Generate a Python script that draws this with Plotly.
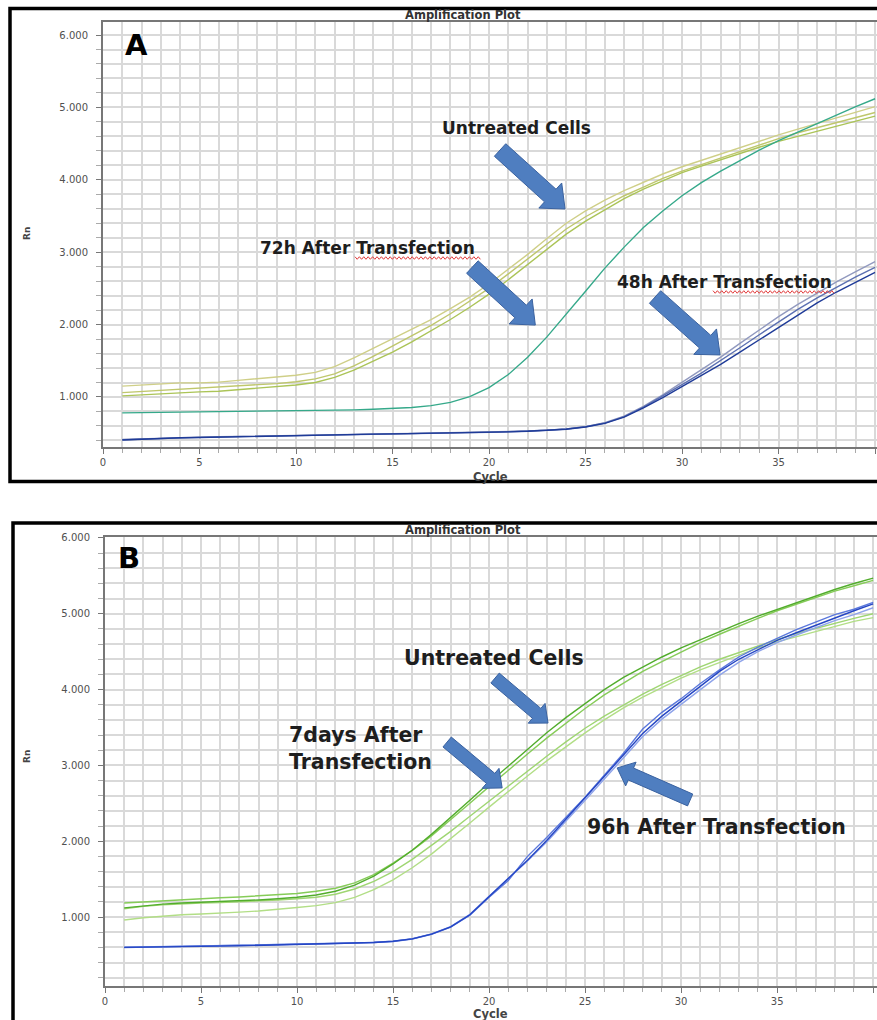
import plotly.graph_objects as go

W, H = 877, 1020

cycles = list(range(1, 41))

# ---- Panel A: Rn per cycle ----
untreated_a1 = [1150, 1165, 1180, 1195, 1195, 1205, 1230, 1250, 1270, 1300,
                1340, 1420, 1540, 1670, 1800, 1930, 2070, 2220, 2380, 2560,
                2760, 2970, 3190, 3400, 3570, 3720, 3850, 3970, 4080, 4180,
                4270, 4360, 4450, 4540, 4620, 4700, 4780, 4850, 4930, 5010]
untreated_a2 = [1060, 1075, 1095, 1110, 1120, 1130, 1150, 1165, 1185, 1210,
                1250, 1320, 1430, 1560, 1700, 1840, 1990, 2150, 2320, 2500,
                2700, 2910, 3120, 3320, 3490, 3640, 3780, 3900, 4020, 4120,
                4210, 4310, 4400, 4480, 4570, 4650, 4720, 4790, 4860, 4930]
untreated_a3 = [1015, 1030, 1050, 1060, 1070, 1080, 1100, 1120, 1140, 1165,
                1200, 1270, 1370, 1490, 1620, 1760, 1910, 2070, 2240, 2420,
                2620, 2830, 3050, 3250, 3430, 3590, 3740, 3870, 3990, 4100,
                4190, 4280, 4370, 4450, 4530, 4600, 4670, 4740, 4810, 4880]
h72 = [780, 783, 788, 790, 792, 795, 798, 800, 803, 807,
       812, 817, 822, 830, 840, 855, 880, 925, 1005, 1130,
       1310, 1550, 1830, 2140, 2460, 2780, 3070, 3340, 3570, 3780,
       3960, 4120, 4270, 4410, 4540, 4660, 4780, 4900, 5010, 5120]
h48_1 = [415, 425, 435, 440, 445, 450, 455, 465, 470, 478,
         482, 485, 488, 490, 493, 496, 500, 505, 510, 515,
         522, 530, 542, 560, 590, 645, 735, 870, 1030, 1200,
         1370, 1550, 1740, 1930, 2110, 2280, 2440, 2590, 2730, 2870]
h48_2 = [410, 420, 430, 438, 442, 448, 452, 460, 466, 474,
         478, 482, 486, 488, 491, 494, 498, 503, 508, 513,
         520, 528, 540, 558, 588, 640, 728, 860, 1010, 1170,
         1330, 1500, 1680, 1860, 2040, 2210, 2370, 2520, 2660, 2790]
h48_3 = [405, 418, 428, 436, 440, 446, 450, 458, 464, 472,
         476, 480, 484, 487, 490, 493, 497, 502, 507, 512,
         518, 526, 538, 555, 585, 636, 722, 850, 990, 1140,
         1290, 1450, 1620, 1790, 1970, 2140, 2300, 2450, 2590, 2720]

# ---- Panel B: Rn per cycle ----
untreated_b1 = [1120, 1150, 1170, 1185, 1195, 1200, 1210, 1225, 1240, 1260,
                1290, 1340, 1420, 1540, 1700, 1880, 2090, 2310, 2540, 2770,
                2990, 3210, 3430, 3630, 3820, 4000, 4160, 4300, 4430, 4550,
                4660, 4770, 4870, 4970, 5060, 5150, 5240, 5320, 5400, 5470]
untreated_b2 = [1185, 1200, 1220, 1235, 1245, 1255, 1265, 1280, 1295, 1310,
                1340, 1380, 1450, 1560, 1710, 1880, 2070, 2280, 2500, 2720,
                2940, 3150, 3360, 3560, 3750, 3930, 4090, 4240, 4370, 4500,
                4620, 4730, 4840, 4940, 5040, 5130, 5220, 5300, 5370, 5440]
days7_1 = [1110, 1140, 1160, 1175, 1185, 1190, 1200, 1210, 1225, 1240,
           1260, 1300, 1370, 1470, 1600, 1760, 1940, 2130, 2330, 2530,
           2730, 2930, 3120, 3310, 3490, 3650, 3800, 3940, 4070, 4190,
           4300, 4400, 4490, 4580, 4660, 4740, 4810, 4880, 4940, 5000]
days7_2 = [960, 990, 1010, 1030, 1040, 1050, 1065, 1080, 1100, 1125,
           1150, 1190, 1260, 1360, 1490, 1650, 1830, 2030, 2240, 2450,
           2660, 2860, 3060, 3250, 3430, 3600, 3760, 3900, 4030, 4150,
           4260, 4360, 4460, 4550, 4630, 4700, 4770, 4840, 4900, 4950]
h96_1 = [600, 605, 608, 610, 612, 616, 620, 625, 630, 636,
         642, 648, 655, 664, 680, 712, 775, 870, 1030, 1270,
         1500, 1750, 2010, 2290, 2570, 2850, 3130, 3420, 3650, 3850,
         4050, 4240, 4400, 4530, 4650, 4750, 4850, 4950, 5040, 5130]
h96_2 = [598, 603, 607, 609, 611, 615, 619, 624, 629, 635,
         641, 647, 654, 663, 678, 710, 772, 866, 1025, 1262,
         1480, 1800, 2050, 2310, 2580, 2870, 3160, 3480, 3700, 3880,
         4080, 4260, 4430, 4560, 4680, 4790, 4890, 4990, 5060, 5150]
h96_3 = [602, 606, 609, 611, 613, 617, 621, 626, 631, 637,
         643, 649, 656, 665, 682, 715, 778, 874, 1035, 1275,
         1510, 1740, 1990, 2260, 2540, 2820, 3100, 3380, 3610, 3810,
         4000, 4190, 4360, 4500, 4620, 4720, 4820, 4910, 4990, 5080]

# plot-area geometry in pixels: left, right, top, bottom, and axis ranges
panels = {
    "A": dict(x0=103, x1=877, y0=22, y1=447, xr=(0, 40.1), yr=(309, 6180), xa="x", ya="y"),
    "B": dict(x0=105, x1=877, y0=537, y1=986, xr=(0, 40.2), yr=(90, 6013), xa="x2", ya="y2"),
}


def to_px(p, c, v):
    g = panels[p]
    x = g["x0"] + (c - g["xr"][0]) / (g["xr"][1] - g["xr"][0]) * (g["x1"] - g["x0"])
    y = g["y1"] - (v - g["yr"][0]) / (g["yr"][1] - g["yr"][0]) * (g["y1"] - g["y0"])
    return x, y


def paper(x, y):
    return x / W, 1 - y / H


fig = go.Figure()

series = [
    ("A", untreated_a1, "#cfcf88"), ("A", untreated_a2, "#bfc76c"), ("A", untreated_a3, "#abc457"),
    ("A", h72, "#35a98a"),
    ("A", h48_1, "#9199bf"), ("A", h48_2, "#5c70b2"), ("A", h48_3, "#1f3b98"),
    ("B", days7_1, "#9fd672"), ("B", days7_2, "#b2de86"),
    ("B", untreated_b2, "#86cc58"), ("B", untreated_b1, "#52ad2c"),
    ("B", h96_3, "#8ea3ea"), ("B", h96_2, "#5b78dc"), ("B", h96_1, "#2546c4"),
]
for p, vals, col in series:
    g = panels[p]
    fig.add_trace(go.Scatter(x=cycles, y=vals, mode="lines", xaxis=g["xa"], yaxis=g["ya"],
                             line=dict(color=col, width=1.4), hoverinfo="skip", showlegend=False))

grid_col = "#d9d9d9"
axis_col = "#777777"
tick_font = dict(family="DejaVu Sans", size=10, color="#505050")


def xaxis_cfg(p):
    g = panels[p]
    return dict(domain=[g["x0"] / W, g["x1"] / W], range=list(g["xr"]), anchor=g["ya"],
                tick0=0, dtick=5, showgrid=True, gridcolor=grid_col, gridwidth=2,
                ticks="outside", ticklen=5, tickcolor=axis_col, tickfont=tick_font,
                minor=dict(dtick=1, tick0=0, showgrid=True, gridcolor=grid_col, gridwidth=2,
                           ticks="outside", ticklen=4, tickcolor="#aaaaaa"),
                showline=True, linecolor=axis_col, linewidth=2, mirror=True,
                zeroline=False, automargin=False, fixedrange=True)


def yaxis_cfg(p):
    g = panels[p]
    return dict(domain=[1 - g["y1"] / H, 1 - g["y0"] / H], range=list(g["yr"]), anchor=g["xa"],
                tick0=0, dtick=1000, tickformat=",d", showgrid=True, gridcolor=grid_col, gridwidth=2,
                ticks="outside", ticklen=5, tickcolor=axis_col, tickfont=tick_font,
                ticklabelstandoff=6,
                minor=dict(dtick=200, tick0=0, showgrid=True, gridcolor=grid_col, gridwidth=2,
                           ticks="outside", ticklen=5, tickcolor="#aaaaaa"),
                showline=True, linecolor=axis_col, linewidth=2, mirror=True,
                zeroline=False, automargin=False, fixedrange=True)


shapes = []

# panel frames
for (l, t, b) in [(10, 8.5, 481.5), (13, 523, 1030)]:
    x0, y0 = paper(l, b)
    x1, y1 = paper(890, t)
    shapes.append(dict(type="rect", xref="paper", yref="paper", x0=x0, y0=y0, x1=x1, y1=y1,
                       line=dict(color="black", width=3.5), fillcolor="rgba(0,0,0,0)", layer="above"))


def block_arrow(p, tip_c, tip_v, dx, dy, shaft, head, head_len):
    tx, ty = to_px(p, tip_c, tip_v)
    sx, sy = tx + dx, ty + dy
    L = ((tx - sx) ** 2 + (ty - sy) ** 2) ** 0.5
    ux, uy = (tx - sx) / L, (ty - sy) / L
    nx, ny = -uy, ux
    bx, by = tx - head_len * ux, ty - head_len * uy
    pts = [(sx + shaft * nx, sy + shaft * ny), (bx + shaft * nx, by + shaft * ny),
           (bx + head * nx, by + head * ny), (tx, ty),
           (bx - head * nx, by - head * ny), (bx - shaft * nx, by - shaft * ny),
           (sx - shaft * nx, sy - shaft * ny)]
    path = "M " + " L ".join("%.4f,%.4f" % paper(x, y) for x, y in pts) + " Z"
    return dict(type="path", xref="paper", yref="paper", path=path,
                fillcolor="#4f7ec0", line=dict(color="#3a62a0", width=1), layer="above")


# arrows: tip in data units, tail offset in pixels
shapes.append(block_arrow("A", 23.94, 3597, -65, -59, 8.5, 17, 20))
shapes.append(block_arrow("A", 22.4, 1994, -63, -58, 8.5, 17, 20))
shapes.append(block_arrow("A", 31.97, 1580, -65, -58, 8.5, 17, 20))
shapes.append(block_arrow("B", 23.07, 3559, -53, -45, 6.5, 13, 15))
shapes.append(block_arrow("B", 20.68, 2702, -55, -46, 6.5, 13, 15))
shapes.append(block_arrow("B", 26.67, 2966, 73, 32, 6.5, 13, 15))


def wavy(x0, x1, y, amp=1.3, step=2.2):
    pts = []
    x = x0
    k = 0
    while x <= x1:
        pts.append(paper(x, y + (amp if k % 2 else -amp)))
        x += step
        k += 1
    path = "M " + " L ".join("%.4f,%.4f" % q for q in pts)
    return dict(type="path", xref="paper", yref="paper", path=path,
                line=dict(color="#e23b3b", width=1), layer="above")


shapes.append(wavy(355, 482, 258))
shapes.append(wavy(713, 836, 292))

annotations = []


def text(x, y, s, size, family="DejaVu Sans", color="#1e1e1e", xanchor="center", align="center", angle=0):
    xp, yp = paper(x, y)
    annotations.append(dict(x=xp, y=yp, xref="paper", yref="paper", text=s, showarrow=False,
                            xanchor=xanchor, yanchor="middle", align=align, textangle=angle,
                            font=dict(family=family, size=size, color=color)))


text(463, 15, "<b>Amplification Plot</b>", 11.5, color="#333333")
text(463, 529.5, "<b>Amplification Plot</b>", 11.5, color="#333333")
text(490, 477, "<b>Cycle</b>", 11.5, color="#444444")
text(490, 1014, "<b>Cycle</b>", 11.5, color="#444444")
text(27, 234, "<b>Rn</b>", 9, color="#444444", angle=-90)
text(27, 757, "<b>Rn</b>", 9, color="#444444", angle=-90)
text(136, 45, "<b>A</b>", 29, color="#000000")
text(129, 558, "<b>B</b>", 29, color="#000000")

text(516, 128, "<b>Untreated Cells</b>", 17)
text(367, 248, "<b>72h After Transfection</b>", 17)
text(724, 282, "<b>48h After Transfection</b>", 17)
text(494, 658, "<b>Untreated Cells</b>", 20.5)
text(287, 748, "<b>7days After<br>Transfection</b>", 20.5, xanchor="left", align="left")
text(716, 827, "<b>96h After Transfection</b>", 20.5)

fig.update_layout(
    width=W, height=H, margin=dict(l=0, r=0, t=0, b=0),
    paper_bgcolor="white", plot_bgcolor="white", template="none",
    separators=",.", showlegend=False,
    xaxis=xaxis_cfg("A"), yaxis=yaxis_cfg("A"),
    xaxis2=xaxis_cfg("B"), yaxis2=yaxis_cfg("B"),
    shapes=shapes, annotations=annotations,
)

fig.write_html("out.html")
